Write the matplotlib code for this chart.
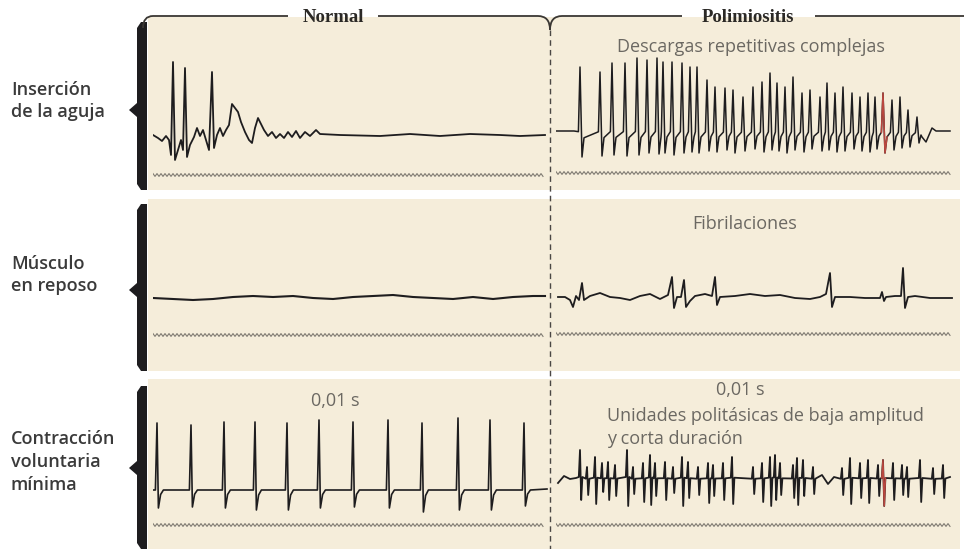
import numpy as np
import matplotlib
matplotlib.use("Agg")
import matplotlib.pyplot as plt
from matplotlib.patches import Rectangle, Polygon, PathPatch
from matplotlib.path import Path

W, H = 964, 549

# ---- text ----
row_labels = ["Inserción\nde la aguja", "Músculo\nen reposo", "Contracción\nvoluntaria\nmínima"]
col_titles = ["Normal", "Polimiositis"]

# ---- traces: sweep time in ms, amplitude in 0.1 mV ----
# needle insertion, normal: short burst then silence
ins_norm_t = [0, 1.25, 2.25, 3.25, 4, 4.5, 5, 5.5, 6.25, 7, 7.5, 8, 8.5, 9.25, 10.25, 11,
              11.75, 12.5, 13.25, 14, 14.75, 15.25, 16, 16.75, 17.5, 18.25, 19, 19.75, 20.5,
              21.25, 22, 23, 24, 24.75, 25.5, 26.25, 27, 27.75, 28.75, 29.75, 30.75, 31.75,
              32.75, 33.75, 34.75, 35.75, 36.75, 38, 39.25, 40.75, 41.75, 46.75, 56.75, 64.25,
              71.75, 79.25, 86.75, 91.75, 98]
ins_norm_v = [0, -0.3, -0.6, -0.1, -0.5, -2.0, 7.3, -2.5, -1.5, -0.5, -1.5, 6.7, -2.2, -1.0,
              -0.2, 0.7, -0.1, 0.5, -0.5, -1.5, 6.3, -1.3, 0, 0.7, -0.1, 0.5, 1.0, 3.1, 2.7,
              2.3, 1.3, 0.3, -0.5, -0.8, 0.7, 1.7, 1.1, 0.5, -0.1, 0.3, -0.3, 0.1, -0.3, 0.3,
              -0.2, 0.4, -0.3, 0.3, -0.1, 0.5, 0.1, 0, -0.1, 0.1, -0.1, 0.1, 0, -0.1, 0]

# needle insertion, polymyositis: complex repetitive discharge
crd_t = [6, 11, 14, 17.25, 20.25, 22.75, 25.25, 26.75, 29, 31.5, 33.5, 35.25, 37.75, 39.75,
         42.25, 44.25, 46.75, 49.25, 51.5, 53.5, 55.25, 57.25, 59.25, 61.5, 63.5, 66, 67.75,
         69.75, 71.75, 74, 76, 78, 79.75, 81.75, 84, 86, 88, 90.25]
crd_peak = [6.6, 6.1, 7.0, 7.0, 7.5, 7.3, 7.5, 7.1, 7.1, 7.0, 6.6, 6.6, 5.3, 4.6, 4.5, 4.3,
            3.6, 4.6, 5.1, 6.0, 5.0, 4.6, 5.6, 4.0, 4.3, 3.6, 5.0, 4.0, 4.6, 4.0, 3.6, 4.0,
            3.6, 4.0, 3.3, 3.6, 2.3, 1.6]
crd_trough = [-2.4, -2.3, -2.2, -2.3, -2.2, -2.0, -2.1, -2.0, -2.2, -2.0, -1.9, -2.0, -1.8,
              -1.9, -1.7, -2.0, -1.8, -1.6, -1.9, -1.7, -1.8, -2.0, -1.7, -1.9, -1.6, -1.8,
              -1.7, -1.9, -1.8, -1.6, -1.8, -1.9, -1.6, -2.0, -1.7, -1.5, -1.4, -1.0]
crd_lead_t, crd_lead_v = [0, 4.5], [0.2, 0.2]
crd_tail_t, crd_tail_v = [91.5, 92.5, 94, 95, 98.5], [-0.4, -0.9, 0.5, 0.2, 0.2]
crd_red = 33

# resting muscle, normal: flat baseline
rest_norm_t = [0, 5, 10, 15, 20, 25, 30, 35, 40, 45, 50, 55, 60, 65, 70, 75, 80, 85, 90, 95, 98]
rest_norm_v = [0, -0.1, -0.2, -0.1, 0.1, 0.2, 0.1, 0.2, 0, -0.1, 0.1, 0.2, 0.3, 0.1, 0,
               -0.1, 0.1, -0.1, 0.1, 0.2, 0.2]

# resting muscle, polymyositis: fibrillation potentials
fib_t = [0.5, 2.25, 3.5, 4.25, 5, 5.75, 6.5, 7, 8.5, 11, 13.5, 16, 18.5, 21, 23.5, 26, 28,
         29, 29.5, 30.25, 31.25, 32, 32.5, 33.5, 34.75, 37.25, 39, 39.75, 40.25, 41, 44.75,
         48.5, 52.25, 56, 59.75, 63.5, 66, 67.5, 68.5, 69, 69.75, 73.5, 77.25, 81, 81.5, 82,
         82.5, 84.75, 86.25, 86.75, 87.25, 88, 89.75, 93.5, 99]
fib_v = [0, 0, -0.3, -1.0, 0.1, -0.3, 1.4, -0.3, 0.1, 0.4, 0, -0.1, -0.3, 0.1, 0.3, -0.2,
         0.2, 2.0, -1.1, 0, 0, 1.7, -1.0, -0.4, 0.1, 0.3, 0.1, 2.0, -0.8, 0, 0.1, 0.3, 0.1,
         0.2, -0.1, -0.2, 0, 0.3, 2.4, -1.0, 0, 0, -0.1, -0.1, 0.5, -0.4, 0, 0.1, 0.1, 2.9,
         -1.1, 0, 0.1, -0.1, -0.1]

# minimal voluntary contraction, normal: motor unit potentials
mup_t = [1.0, 9.5, 17.75, 25.5, 33.5, 41.5, 50, 58.75, 67.25, 76.25, 84.25, 92.75]
mup_peak = [6.7, 6.5, 6.8, 6.8, 6.7, 7.0, 6.8, 7.0, 6.7, 7.2, 7.0, 6.7]
mup_trough = [-1.8, -1.7, -1.8, -2.0, -2.0, -1.8, -1.7, -1.8, -2.2, -2.0, -2.0, -1.6]

# minimal voluntary contraction, polymyositis: small short polyphasic units
poly_t = [6, 7.75, 9.75, 11.5, 13, 14.75, 17.75, 19.25, 21.75, 23.5, 24.75, 27.25, 29.25,
          31.5, 33, 35.5, 38, 39.25, 41.75, 44, 49.25, 51.5, 53.5, 54.75, 56, 59.25, 60.25,
          61.75, 64.25, 71.5, 73.5, 76, 78, 80.5, 81.75, 84.25, 86.5, 87.75, 91, 94.25, 96.75]
poly_peak = [3.0, 1.3, 2.3, 1.7, 1.8, 1.5, 3.0, 1.3, 1.7, 2.5, 1.7, 1.8, 1.3, 2.3, 1.8, 1.3,
             1.7, 1.5, 1.7, 2.3, 1.3, 1.7, 2.3, 2.5, 1.7, 1.5, 2.2, 2.0, 1.3, 1.2, 2.2, 1.7,
             2.0, 1.5, 2.0, 1.7, 1.5, 1.3, 2.0, 1.2, 1.5]
poly_trough = [-2.0, -1.5, -2.4, -1.2, -2.0, -1.6, -2.6, -1.4, -2.2, -2.5, -1.6, -2.0, -1.3,
               -2.6, -1.8, -1.5, -2.3, -1.6, -2.0, -2.4, -1.4, -2.2, -2.6, -2.0, -1.5, -1.8,
               -2.5, -1.6, -1.4, -1.5, -2.4, -1.8, -2.3, -1.6, -2.6, -2.0, -1.5, -1.7, -2.2,
               -1.4, -1.8]
poly_lead_t, poly_lead_v = [0.5, 2, 3.5, 5], [-0.3, 0.4, 0.1, 0.2]
poly_gap_t, poly_gap_v = [46, 66.5, 68, 69.5], [0.2, 0.5, -0.4, 0.3]
poly_red = 34

CAL_PERIOD = 1.0  # ms, timing trace under each sweep

# spike shapes: (time offset ms, weight on peak, weight on trough)
SHAPE_MUP = [(-0.4, 0, 0), (0, 1, 0), (0.35, 0, 1), (0.9, 0, 0.25), (1.6, 0, 0)]
SHAPE_CRD = [(-0.4, 0.02, 0), (0, 1, 0), (0.5, 0, 1), (1.0, 0, 0.2)]
SHAPE_POLY = [(-0.3, 0.1, 0), (0, 1, 0), (0.3, 0, 1), (0.6, 0.1, 0)]

INK = "#1e1d1f"
CREAM = "#f5edda"


def train(times, peaks, troughs, shape, extra_t=(), extra_v=()):
    tt, vv = list(extra_t), list(extra_v)
    for t, p, q in zip(times, peaks, troughs):
        for dt, a, b in shape:
            tt.append(t + dt)
            vv.append(a * p + b * q)
    order = np.argsort(tt, kind="stable")
    return np.asarray(tt)[order], np.asarray(vv)[order]


def one_spike(t, p, q, shape):
    return [t + s[0] for s in shape], [s[1] * p + s[2] * q for s in shape]


fig = plt.figure(figsize=(W / 100, H / 100), dpi=100)
bg = fig.add_axes([0, 0, 1, 1])
bg.set_xlim(0, W)
bg.set_ylim(H, 0)
bg.axis("off")

# cream panels
for top, bot in [(17, 190), (199, 371), (379, 549)]:
    bg.add_patch(Rectangle((148, top), 812, bot - top, fc=CREAM, ec="none", zorder=0))

# left braces
for y0, y1, yn in [(22, 190, 110), (204, 371, 290), (386, 549, 468)]:
    bg.add_patch(Polygon([(147, y0), (147, y1), (141, y1), (137, y1 - 6), (137, yn + 7),
                          (129, yn), (137, yn - 7), (137, y0 + 6), (141, y0)],
                         closed=True, fc=INK, ec="none", zorder=3))

# header bracket
hdr = dict(fc="none", ec="#3a3733", lw=1.3, zorder=3)
bg.add_patch(PathPatch(Path([(143, 28), (143, 16), (153, 16), (288, 16)],
                            [Path.MOVETO, Path.CURVE3, Path.CURVE3, Path.LINETO]), **hdr))
bg.add_patch(PathPatch(Path([(378, 16), (538, 16), (550, 16), (550, 30)],
                            [Path.MOVETO, Path.LINETO, Path.CURVE3, Path.CURVE3]), **hdr))
bg.add_patch(PathPatch(Path([(550, 30), (550, 16), (562, 16), (682, 16)],
                            [Path.MOVETO, Path.CURVE3, Path.CURVE3, Path.LINETO]), **hdr))
bg.add_patch(PathPatch(Path([(815, 16), (964, 16)], [Path.MOVETO, Path.LINETO]), **hdr))
bg.plot([550, 550], [30, 549], color="#4a4744", lw=1.0, dashes=(4, 3), zorder=3)

hdr_txt = dict(ha="center", va="center", fontsize=13.5, family="Liberation Serif",
               weight="bold", color="#2b2926")
bg.text(333, 17, col_titles[0], **hdr_txt)
bg.text(748, 17, col_titles[1], **hdr_txt)

for lab, yc in zip(row_labels, [101, 275, 462]):
    bg.text(11, yc, lab, ha="left", va="center", fontsize=13, family="Open Sans",
            weight="semibold", color="#3a3a3a", linespacing=1.35)

note = dict(family="Open Sans", color="#6b6862", fontsize=13)
bg.text(751, 47, "Descargas repetitivas complejas", ha="center", va="center", **note)
bg.text(745, 224, "Fibrilaciones", ha="center", va="center", **note)
bg.text(335, 401, "0,01 s", ha="center", va="center", **note)
bg.text(740, 390, "0,01 s", ha="center", va="center", **note)
bg.text(607, 416, "Unidades politásicas de baja amplitud", ha="left", va="center", **note)
bg.text(607, 439, "y corta duración", ha="left", va="center", **note)


def trace_axes(x0, base, top, bot):
    a = fig.add_axes([x0 / W, 1 - bot / H, 400 / W, (bot - top) / H])
    a.set_xlim(0, 100)
    a.set_ylim(-(bot - base) / 10, (base - top) / 10)
    a.axis("off")
    a.patch.set_alpha(0)
    return a


def cal_trace(a, level, t_end):
    ct = np.arange(0, t_end + 1e-9, CAL_PERIOD / 2)
    cv = level + 0.14 * (-1.0) ** np.arange(len(ct))
    a.plot(ct, cv, color="#7f7b72", lw=0.8)


# row 1
a = trace_axes(153, 135, 17, 190)
a.plot(ins_norm_t, ins_norm_v, color=INK, lw=1.3)
cal_trace(a, -4.0, 97.5)

a = trace_axes(556, 133, 17, 190)
t, v = train(crd_t, crd_peak, crd_trough, SHAPE_CRD,
             crd_lead_t + crd_tail_t, crd_lead_v + crd_tail_v)
a.plot(t, v, color=INK, lw=1.1)
rt, rv = one_spike(crd_t[crd_red], crd_peak[crd_red], crd_trough[crd_red], SHAPE_CRD)
a.plot(rt, rv, color="#b9473f", lw=1.1)
cal_trace(a, -4.0, 98.5)

# row 2
a = trace_axes(153, 298, 199, 371)
a.plot(rest_norm_t, rest_norm_v, color=INK, lw=1.5)
cal_trace(a, -3.7, 97.5)

a = trace_axes(556, 297, 199, 371)
a.plot(fib_t, fib_v, color=INK, lw=1.3)
cal_trace(a, -3.7, 98.5)

# row 3
a = trace_axes(153, 490, 379, 549)
t, v = train(mup_t, mup_peak, mup_trough, SHAPE_MUP, [0, 98.5], [0, 0.1])
a.plot(t, v, color=INK, lw=1.2)
cal_trace(a, -3.5, 97.5)

a = trace_axes(556, 480, 379, 549)
t, v = train(poly_t, poly_peak, poly_trough, SHAPE_POLY,
             poly_lead_t + poly_gap_t + [98.5], poly_lead_v + poly_gap_v + [0.3])
a.plot(t, v, color=INK, lw=1.3)
rt, rv = one_spike(poly_t[poly_red], poly_peak[poly_red], poly_trough[poly_red], SHAPE_POLY)
a.plot(rt, rv, color="#b9473f", lw=1.1)
cal_trace(a, -4.5, 98.5)

fig.savefig("out.png", dpi=100, facecolor="white")
